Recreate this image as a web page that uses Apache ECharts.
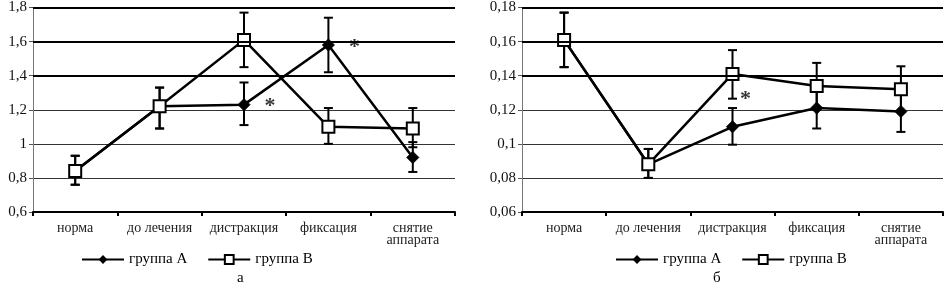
<!DOCTYPE html>
<html>
<head>
<meta charset="utf-8">
<script src="https://cdn.jsdelivr.net/npm/echarts@6/dist/echarts.min.js"></script>
<style>
  html, body { margin: 0; padding: 0; background: #fff; }
  #chart { width: 946px; height: 287px; }
</style>
</head>
<body>
<div id="chart"></div>
<script>
// категории по оси X
var categories = ['норма', 'до лечения', 'дистракция', 'фиксация', 'снятие\nаппарата'];

// график а
var leftA = [0.84, 1.22, 1.23, 1.58, 0.92];
var leftA_lo = [0.76, 1.09, 1.11, 1.42, 0.835];
var leftA_hi = [0.93, 1.33, 1.36, 1.74, 1.01];
var leftB = [0.84, 1.22, 1.61, 1.10, 1.09];
var leftB_lo = [0.76, 1.09, 1.45, 1.00, 0.98];
var leftB_hi = [0.93, 1.33, 1.77, 1.21, 1.21];
var leftThick = [1.4, 1.6, 1.8];

// график б
var rightA = [0.161, 0.088, 0.110, 0.121, 0.119];
var rightA_lo = [0.145, 0.080, 0.0995, 0.109, 0.107];
var rightA_hi = [0.177, 0.097, 0.121, 0.1335, 0.132];
var rightB = [0.161, 0.088, 0.141, 0.134, 0.132];
var rightB_lo = [0.145, 0.080, 0.1265, 0.121, 0.119];
var rightB_hi = [0.177, 0.097, 0.155, 0.1475, 0.1455];
var rightThick = [0.14, 0.16, 0.18];

// звёздочки (индекс категории)
var starsLeftA = [2, 3];
var starsRightB = [2];

var FONT = '"Liberation Serif", "DejaVu Serif", serif';

function fmt(v) {
  return String(+v.toFixed(2)).replace('.', ',');
}

// усы погрешностей
function errSeries(idx, lo, hi) {
  return {
    type: 'custom',
    xAxisIndex: idx, yAxisIndex: idx,
    z: 2,
    silent: true,
    data: lo.map(function (l, i) { return [i, l, hi[i]]; }),
    renderItem: function (params, api) {
      var p1 = api.coord([api.value(0), api.value(1)]);
      var p2 = api.coord([api.value(0), api.value(2)]);
      var w = 4.5;
      var st = { stroke: '#000', lineWidth: 2 };
      return {
        type: 'group',
        children: [
          { type: 'line', shape: { x1: p1[0], y1: p1[1], x2: p2[0], y2: p2[1] }, style: st },
          { type: 'line', shape: { x1: p1[0] - w, y1: p1[1], x2: p1[0] + w, y2: p1[1] }, style: st },
          { type: 'line', shape: { x1: p2[0] - w, y1: p2[1], x2: p2[0] + w, y2: p2[1] }, style: st }
        ]
      };
    }
  };
}

// звёздочка рядом с точкой
function starSeries(idx, cats, values, offset) {
  return {
    type: 'scatter', xAxisIndex: idx, yAxisIndex: idx, z: 6, silent: true,
    symbolSize: 1, itemStyle: { color: 'rgba(0,0,0,0)' },
    data: cats.map(function (c) { return [c, values[c]]; }),
    label: {
      show: true, formatter: '*', color: '#000', fontSize: 22, fontWeight: 'bold',
      fontFamily: FONT, position: 'inside', offset: offset
    }
  };
}

function lineA(idx, data) {
  return {
    name: 'группа А', type: 'line', xAxisIndex: idx, yAxisIndex: idx, z: 3,
    data: data, symbol: 'diamond', symbolSize: 12,
    lineStyle: { color: '#000', width: 2.5 },
    itemStyle: { color: '#000', borderColor: '#000' }
  };
}

function lineB(idx, data) {
  return {
    name: 'группа В', type: 'line', xAxisIndex: idx, yAxisIndex: idx, z: 4,
    data: data, symbol: 'rect', symbolSize: 12,
    lineStyle: { color: '#000', width: 2.5 },
    itemStyle: { color: '#fff', borderColor: '#000', borderWidth: 2 }
  };
}

function thickLines(idx, vals) {
  return {
    type: 'line', xAxisIndex: idx, yAxisIndex: idx, data: [], silent: true,
    markLine: {
      symbol: 'none', silent: true, label: { show: false },
      lineStyle: { color: '#000', width: 2.2, type: 'solid' },
      data: vals.map(function (v) { return { yAxis: v }; })
    }
  };
}

function xAxis(idx) {
  return {
    type: 'category', gridIndex: idx, data: categories,
    boundaryGap: true,
    axisLine: { lineStyle: { color: '#000', width: 2 } },
    axisTick: { show: true, inside: false, length: 4, lineStyle: { color: '#000', width: 2 } },
    axisLabel: { color: '#222', fontSize: 14, fontFamily: FONT, margin: 10, lineHeight: 12, interval: 0 }
  };
}

function yAxis(idx, min, max, step) {
  return {
    type: 'value', gridIndex: idx, min: min, max: max, interval: step,
    axisLine: { show: true, lineStyle: { color: '#777', width: 1 } },
    axisTick: { show: true, length: 4, lineStyle: { color: '#555' } },
    splitLine: { show: true, lineStyle: { color: '#333', width: 1 } },
    axisLabel: { color: '#111', fontSize: 15, fontFamily: FONT, margin: 6, formatter: fmt }
  };
}

var chart = echarts.init(document.getElementById('chart'));
chart.setOption({
  animation: false,
  backgroundColor: '#fff',
  title: [
    { text: 'а', left: 232, top: 266, textStyle: { fontSize: 15, fontWeight: 'normal', fontFamily: FONT, color: '#000' } },
    { text: 'б', left: 708, top: 266, textStyle: { fontSize: 15, fontWeight: 'normal', fontFamily: FONT, color: '#000' } }
  ],
  legend: [
    { left: 76, top: 247, itemWidth: 42, itemHeight: 11, itemGap: 20,
      data: ['группа А', 'группа В'],
      textStyle: { fontSize: 15, fontFamily: FONT, color: '#000' } },
    { left: 610, top: 247, itemWidth: 42, itemHeight: 11, itemGap: 20,
      data: ['группа А', 'группа В'],
      textStyle: { fontSize: 15, fontFamily: FONT, color: '#000' } }
  ],
  grid: [
    { left: 33, right: 491, top: 6, bottom: 75 },
    { left: 522, right: 3, top: 6, bottom: 75 }
  ],
  xAxis: [xAxis(0), xAxis(1)],
  yAxis: [yAxis(0, 0.6, 1.8, 0.2), yAxis(1, 0.06, 0.18, 0.02)],
  series: [
    thickLines(0, leftThick),
    thickLines(1, rightThick),
    errSeries(0, leftA_lo, leftA_hi),
    errSeries(0, leftB_lo, leftB_hi),
    errSeries(1, rightA_lo, rightA_hi),
    errSeries(1, rightB_lo, rightB_hi),
    lineA(0, leftA),
    lineB(0, leftB),
    lineA(1, rightA),
    lineB(1, rightB),
    starSeries(0, starsLeftA, leftA, [26, 2]),
    starSeries(1, starsRightB, rightB, [13, 25])
  ]
});
</script>
</body>
</html>
